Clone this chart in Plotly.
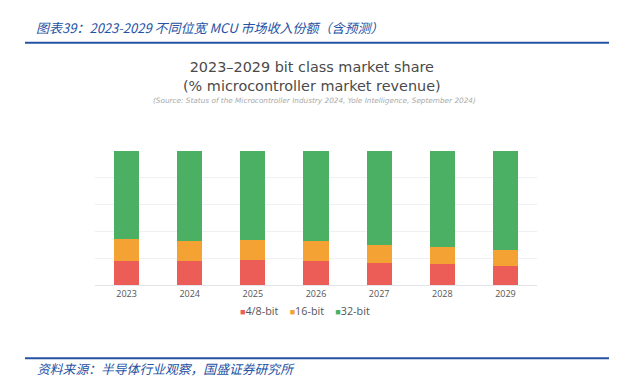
import plotly.graph_objects as go

years = ["2023", "2024", "2025", "2026", "2027", "2028", "2029"]
bit_4_8 = [17.8, 18.0, 18.8, 18.0, 16.8, 15.8, 14.3]
bit_16 = [16.6, 15.1, 14.8, 14.7, 13.1, 12.4, 11.9]
bit_32 = [round(100 - a - b, 1) for a, b in zip(bit_4_8, bit_16)]

series = [("4/8-bit", bit_4_8, "#EC5D58"), ("16-bit", bit_16, "#F4A234"), ("32-bit", bit_32, "#4BB064")]

W, H = 628, 382
fig = go.Figure()
for name, vals, col in series:
    fig.add_trace(go.Bar(x=years, y=vals, name=name, marker=dict(color=col, line=dict(width=0)),
                         width=0.4, showlegend=False))

def px(x):
    return x / W

def py(y):
    return 1 - y / H

legend_text = "&nbsp;&nbsp;&nbsp;&nbsp;".join(
    f'<span style="color:{col};font-size:9px">■</span>{name}' for name, _, col in series)

fig.update_layout(
    width=W, height=H, barmode="stack",
    margin=dict(l=0, r=0, t=0, b=0),
    paper_bgcolor="white", plot_bgcolor="white",
    font=dict(family="Open Sans, sans-serif", color="#555"),
    xaxis=dict(domain=[px(95), px(537)], range=[-0.5, 6.5], showgrid=False,
               showline=True, linecolor="#E2E4E8", linewidth=1,
               ticks="", tickfont=dict(size=9, color="#555"), fixedrange=True),
    yaxis=dict(domain=[py(285.3), py(150.7)], range=[0, 100], dtick=20,
               showgrid=True, gridcolor="#EEF0F4", gridwidth=1, zeroline=False,
               showticklabels=False, fixedrange=True),
    showlegend=False,
    shapes=[
        dict(type="line", xref="paper", yref="paper", x0=px(25), x1=px(609), y0=py(42.7), y1=py(42.7),
             line=dict(color="#2452A4", width=2)),
        dict(type="line", xref="paper", yref="paper", x0=px(25), x1=px(609), y0=py(358.3), y1=py(358.3),
             line=dict(color="#2452A4", width=2)),
    ],
    annotations=[
        dict(text="<i>图表39：2023-2029 不同位宽 MCU 市场收入份额（含预测）</i>", xref="paper", yref="paper",
             x=px(34), y=py(28), xanchor="left", yanchor="middle", showarrow=False,
             font=dict(family="Noto Sans CJK SC", size=13, color="#2452A4")),
        dict(text="<i>资料来源：半导体行业观察，国盛证券研究所</i>", xref="paper", yref="paper",
             x=px(35), y=py(368.5), xanchor="left", yanchor="middle", showarrow=False,
             font=dict(family="Noto Sans CJK SC", size=12.8, color="#2452A4")),
        dict(text="2023–2029 bit class market share<br>(% microcontroller market revenue)",
             xref="paper", yref="paper", x=px(312), y=py(77), xanchor="center", yanchor="middle",
             showarrow=False, font=dict(family="DejaVu Sans, sans-serif", size=14.4, color="#4A4A4A")),
        dict(text="<i>(Source: Status of the Microcontroller Industry 2024, Yole Intelligence, September 2024)</i>",
             xref="paper", yref="paper", x=px(314), y=py(100.5), xanchor="center", yanchor="middle",
             showarrow=False, font=dict(family="DejaVu Sans, sans-serif", size=7.3, color="#AAAAAA")),
        dict(text=legend_text, xref="paper", yref="paper", x=px(305), y=py(310.7),
             xanchor="center", yanchor="middle", showarrow=False,
             font=dict(family="Open Sans, sans-serif", size=10.8, color="#555")),
    ],
)

fig.write_html("out.html", config={"displayModeBar": False},
               post_script="document.body.style.margin='0';document.body.style.padding='0';")
